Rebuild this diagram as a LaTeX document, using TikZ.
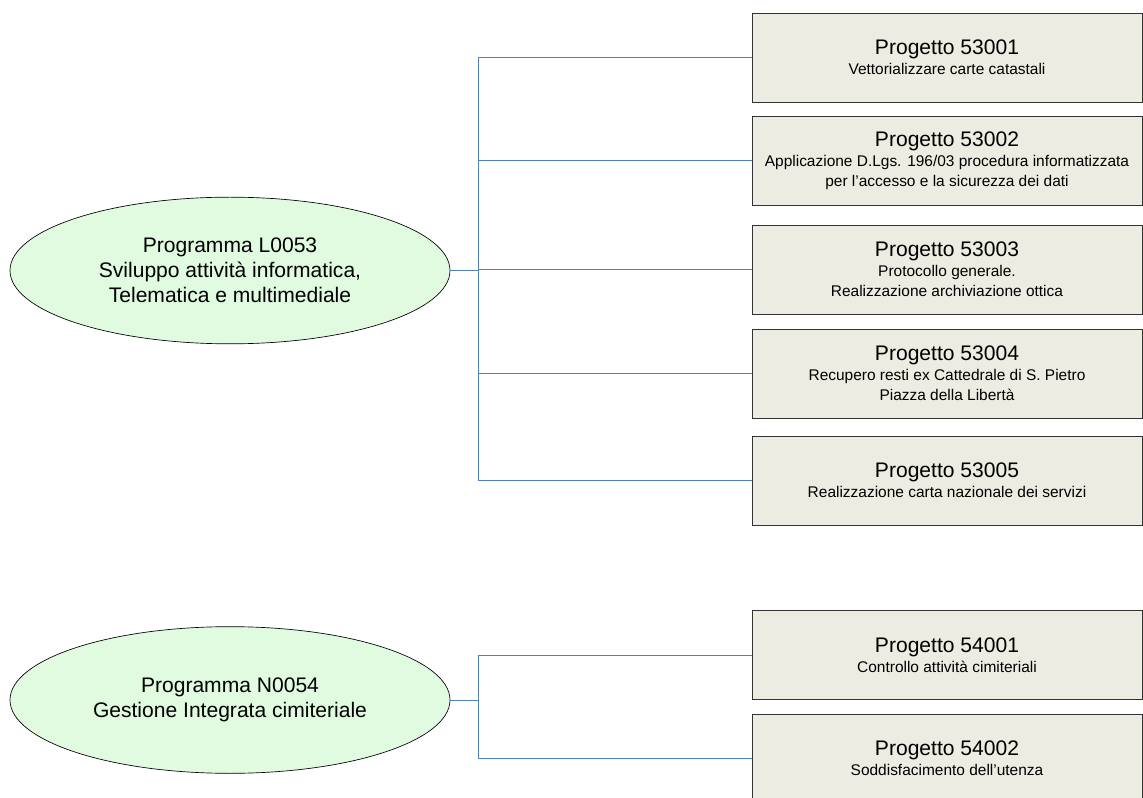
\documentclass[tikz,border=0pt]{standalone}
\usepackage{fontspec}
\setmainfont{Liberation Sans}
\usetikzlibrary{shapes.geometric}

\definecolor{progfill}{RGB}{224,251,224}
\definecolor{projfill}{RGB}{236,236,226}
\definecolor{linkblue}{RGB}{79,129,189}

\newcommand{\titlefont}{\fontsize{15.8}{18.75}\selectfont}
\newcommand{\subfont}{\fontsize{11.6}{15}\selectfont}

\tikzset{
	prog/.style={draw=black, ellipse, fill=progfill, line width=0.5pt, inner sep=0pt,
		minimum width=330pt, minimum height=110pt, align=center, font=\titlefont},
	proj/.style={draw=black!80, rectangle, fill=projfill, line width=0.6pt, inner xsep=0pt,
		minimum width=292.5pt, minimum height=66.75pt, align=center, font=\subfont},
	link/.style={draw=linkblue, line width=0.7pt}
}

\begin{document}
\begin{tikzpicture}[x=0.75pt, y=0.75pt]
		\useasboundingbox (0,0) rectangle (1143,-798);
		\clip (0,0) rectangle (1143,-798);
		
		\node[prog](PRG1) at (230,-270.5){Programma L0053\\Sviluppo attività informatica,\\Telematica e multimediale};
		\node[prog](PRG2) at (230,-700){Programma N0054\\Gestione Integrata cimiteriale};
		
		\node[proj](PRJ1) at (947,-57.5){{\titlefont Progetto 53001}\\Vettorializzare carte catastali};
		\node[proj, below of=PRJ1, node distance=77.6pt](PRJ2){{\titlefont Progetto 53002}\\Applicazione D.Lgs. 196/03 procedura informatizzata\\per l’accesso e la sicurezza dei dati};
		\node[proj, below of=PRJ2, node distance=81.4pt](PRJ3){{\titlefont Progetto 53003}\\Protocollo generale.\\Realizzazione archiviazione ottica};
		\node[proj, below of=PRJ3, node distance=78pt](PRJ4){{\titlefont Progetto 53004}\\Recupero resti ex Cattedrale di S. Pietro\\Piazza della Libertà};
		\node[proj, below of=PRJ4, node distance=80.3pt](PRJ5){{\titlefont Progetto 53005}\\Realizzazione carta nazionale dei servizi};
		
		\node[proj](PRJ6) at (947,-655){{\titlefont Progetto 54001}\\Controllo attività cimiteriali};
		\node[proj, below of=PRJ6, node distance=77.6pt](PRJ7){{\titlefont Progetto 54002}\\Soddisfacimento dell’utenza};
		
		\coordinate (J1) at ([xshift=21pt]PRG1.east);
		\coordinate (J2) at ([xshift=21pt]PRG2.east);
		
		\draw[link] (PRG1.east) -- (J1);
		\draw[link] (PRJ1.west) -| (J1);
		\draw[link] (PRJ2.west) -| (J1);
		\draw[link] (PRJ3.west) -| (J1);
		\draw[link] (PRJ4.west) -| (J1);
		\draw[link] (PRJ5.west) -| (J1);
		
		\draw[link] (PRG2.east) -- (J2);
		\draw[link] (PRJ6.west) -| (J2);
		\draw[link] (PRJ7.west) -| (J2);
		\end{tikzpicture}
\end{document}
